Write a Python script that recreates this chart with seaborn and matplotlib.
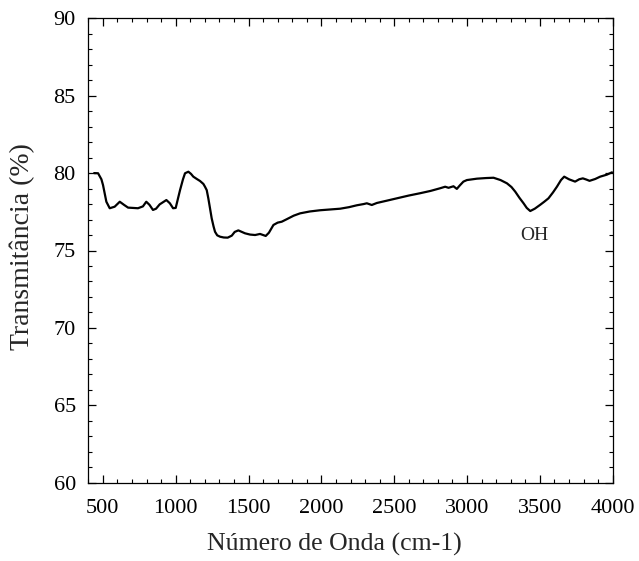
import numpy as np
import pandas as pd
import matplotlib
matplotlib.use("Agg")
import matplotlib.pyplot as plt
from matplotlib.ticker import MultipleLocator
import seaborn as sns

wavenumber = [440, 467, 490, 501, 524, 547, 581, 616, 645, 673, 741, 775, 798, 820, 844,
              865, 890, 936, 960, 982, 1000, 1016, 1030, 1050, 1064, 1087, 1105, 1121,
              1145, 1167, 1190, 1201, 1213, 1224, 1236, 1247, 1260, 1270, 1285, 1305,
              1330, 1357, 1385, 1405, 1430, 1476, 1510, 1545, 1579, 1600, 1618, 1640,
              1671, 1700, 1728, 1762, 1810, 1854, 1920, 1991, 2060, 2129, 2190, 2243,
              2290, 2312, 2346, 2381, 2450, 2518, 2600, 2678, 2750, 2815, 2850, 2873,
              2907, 2930, 2950, 2975, 2999, 3068, 3130, 3182, 3230, 3274, 3305, 3331,
              3360, 3388, 3410, 3434, 3465, 3502, 3530, 3559, 3590, 3617, 3645, 3667,
              3700, 3742, 3770, 3795, 3820, 3841, 3880, 3914, 3960, 3995]
transmittance = [80.0, 79.99, 79.6, 79.23, 78.15, 77.73, 77.83, 78.15, 77.95, 77.77, 77.73,
                 77.85, 78.15, 77.95, 77.62, 77.7, 77.98, 78.26, 78.05, 77.73, 77.75, 78.37,
                 78.91, 79.6, 79.99, 80.09, 79.95, 79.77, 79.62, 79.49, 79.3, 79.12, 78.9,
                 78.37, 77.7, 77.08, 76.55, 76.21, 75.98, 75.89, 75.84, 75.83, 75.96, 76.2,
                 76.3, 76.11, 76.03, 76.0, 76.07, 76.0, 75.94, 76.15, 76.65, 76.8, 76.86,
                 77.02, 77.25, 77.4, 77.52, 77.6, 77.65, 77.7, 77.8, 77.92, 78.0, 78.05,
                 77.94, 78.07, 78.22, 78.37, 78.55, 78.7, 78.85, 79.02, 79.12, 79.05, 79.15,
                 78.98, 79.2, 79.45, 79.55, 79.64, 79.68, 79.7, 79.55, 79.34, 79.1, 78.8,
                 78.4, 78.05, 77.75, 77.55, 77.7, 77.95, 78.15, 78.37, 78.75, 79.12, 79.55,
                 79.77, 79.6, 79.45, 79.6, 79.66, 79.58, 79.5, 79.62, 79.77, 79.9, 80.05]

x_ticks = [500, 1000, 1500, 2000, 2500, 3000, 3500, 4000]
y_ticks = [60, 65, 70, 75, 80, 85, 90]
annotation_text = "OH"
annotation_pos = (3461, 76.0)

sns.set_style("ticks")
plt.rcParams["font.family"] = ["Liberation Serif", "DejaVu Serif"]

df = pd.DataFrame({"wavenumber": wavenumber, "transmittance": transmittance})

fig = plt.figure(figsize=(6.39, 5.61), dpi=100)
ax = fig.add_axes([88.3 / 639, 1 - 482.7 / 561, (612.7 - 88.3) / 639, (482.7 - 18.3) / 561])

sns.lineplot(data=df, x="wavenumber", y="transmittance", ax=ax, color="black",
             linewidth=1.6, estimator=None, sort=False)

ax.set_xlim(400, 4000)
ax.set_ylim(60, 90)
ax.set_xticks(x_ticks)
ax.set_yticks(y_ticks)
ax.xaxis.set_minor_locator(MultipleLocator(100))
ax.yaxis.set_minor_locator(MultipleLocator(1))
ax.tick_params(axis="both", which="both", direction="in", top=True, right=True,
               labelsize=16, colors="black")
ax.tick_params(which="major", length=6, width=0.9)
ax.tick_params(axis="x", which="major", pad=12)
ax.tick_params(axis="y", which="major", pad=9)
ax.tick_params(which="minor", length=3.2, width=0.8)
for s in ax.spines.values():
    s.set_linewidth(0.9)
    s.set_color("black")
    s.set_visible(True)

ax.set_xlabel("Número de Onda (cm-1)", fontsize=18.6)
ax.set_ylabel("Transmitância (%)", fontsize=20)
ax.xaxis.set_label_coords(0.4685, -0.108)
ax.yaxis.set_label_coords(-0.1016, 0.5075)
ax.text(annotation_pos[0], annotation_pos[1], annotation_text, fontsize=14,
        ha="center", va="center")

fig.savefig("out.png", dpi=100)
